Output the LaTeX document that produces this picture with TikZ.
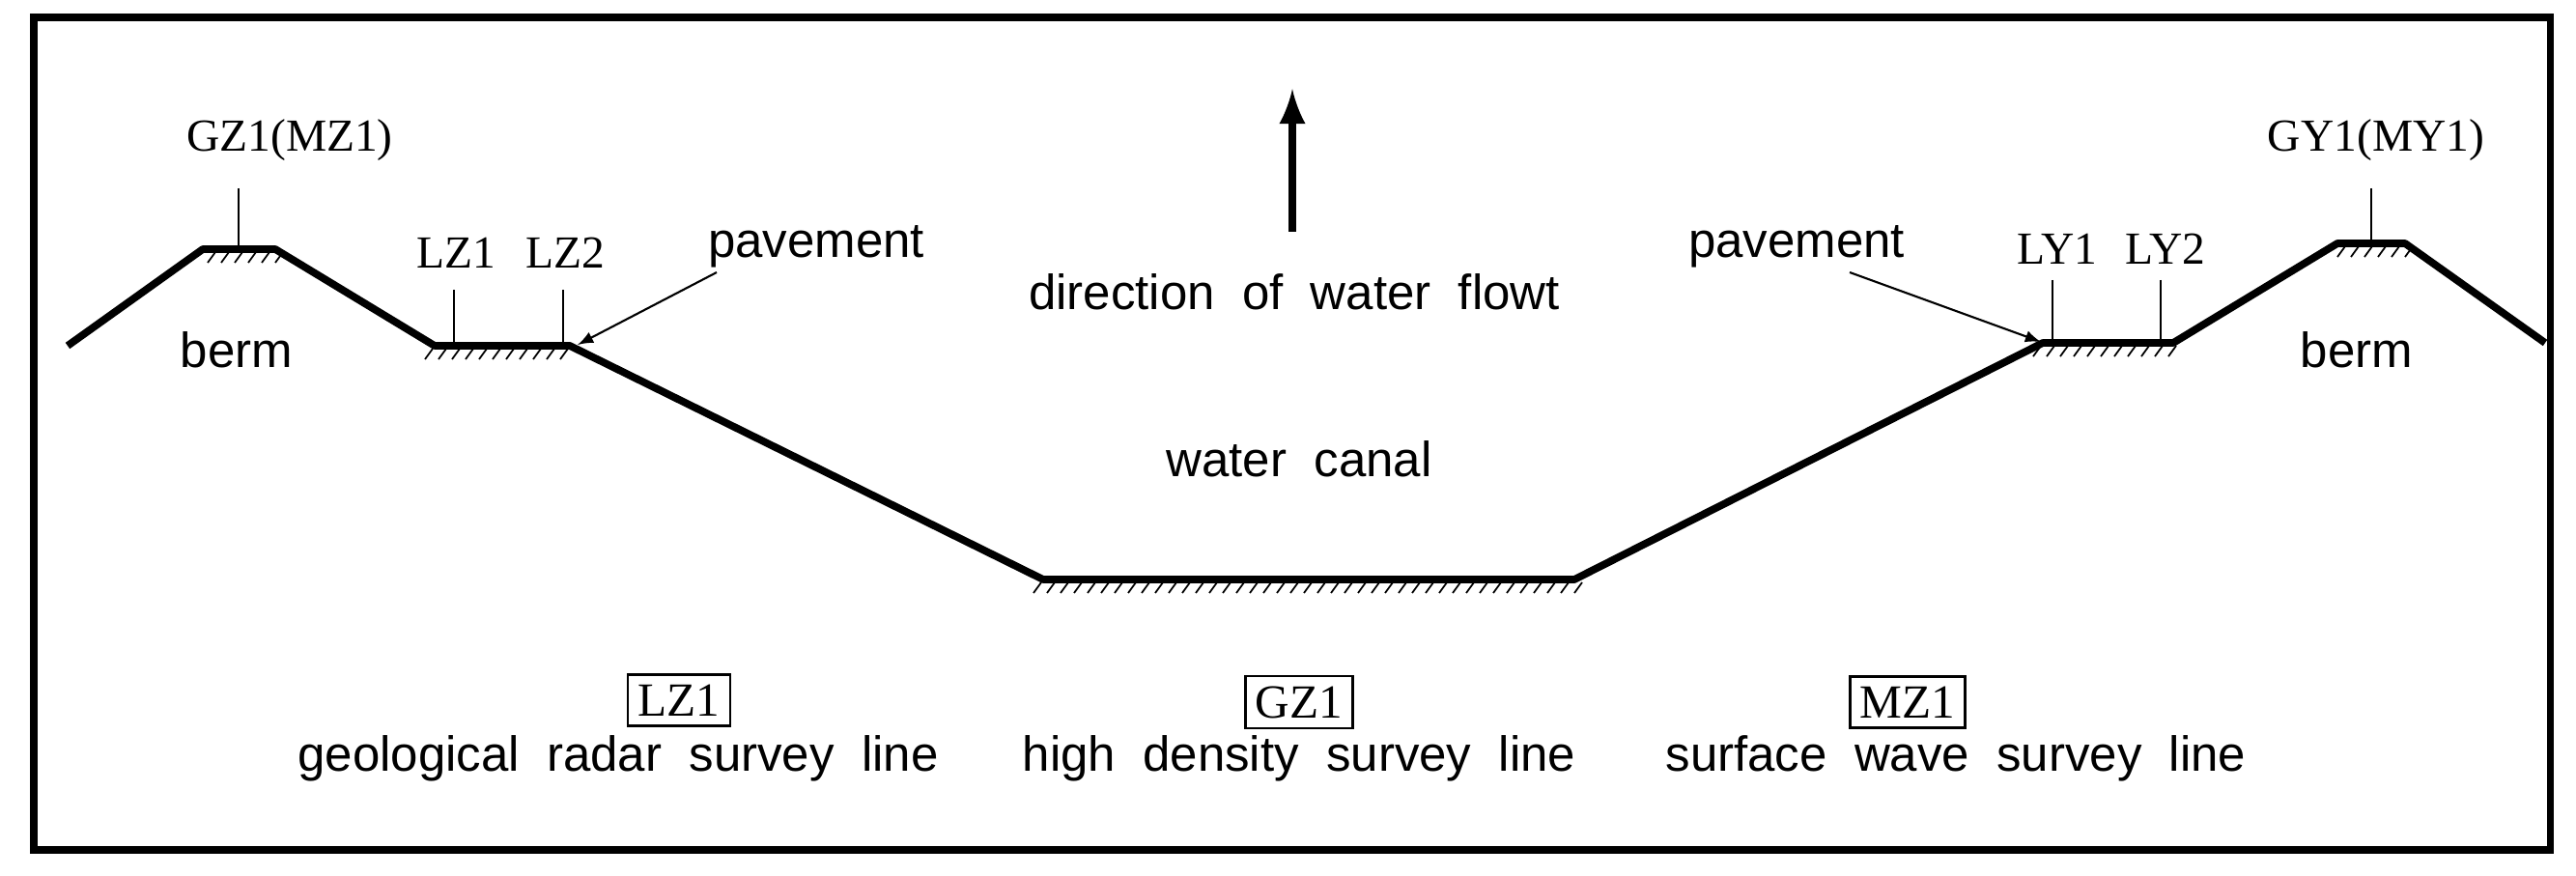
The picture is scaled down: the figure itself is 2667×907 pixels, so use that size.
\documentclass[tikz,border=0pt]{standalone}
\usepackage{fontspec}
\setmainfont{Liberation Sans}
\newfontfamily\codefont{Liberation Serif}
\begin{document}
\begin{tikzpicture}[x=0.01cm,y=-0.01cm,
  prof/.style={line width=2.2pt,line join=round},
  txt/.style={font=\fontsize{14.5}{17}\selectfont},
  code/.style={font=\codefont\fontsize{13.5}{16}\selectfont},
  tick/.style={line width=0.6pt},
  cbox/.style={draw,line width=0.8pt,inner sep=3pt,font=\codefont\fontsize{14}{16}\selectfont}]
\useasboundingbox (0,0) rectangle (2667,907);
\draw[line width=2pt] (35,18) rectangle (2640,880);
\draw[prof] (70,358) -- (210,258) -- (285,258) -- (450,358) -- (590,358) -- (1080,600) -- (1630,600) -- (2115,355) -- (2250,355) -- (2420,252) -- (2490,252) -- (2635,355);
% hatching
\foreach \a/\b/\y in {215/285/258, 440/590/358, 1070/1635/600, 2105/2255/355, 2420/2490/252}{
  \pgfmathsetmacro{\n}{int((\b-\a)/14)}
  \foreach \i in {0,...,\n}{
    \draw[line width=0.5pt] ({\a+\i*14},{\y+14}) -- ({\a+\i*14+8},{\y+3});
  }
}
% ticks and labels
\coordinate (g1a) at (247,195); \coordinate (g1b) at (247,258);
\draw[tick] (g1a) -- (g1b);
\node[code] (gz) at (300,145) {GZ1(MZ1)};
\coordinate (l1a) at (470,300); \coordinate (l1b) at (470,358);
\draw[tick] (l1a) -- (l1b);
\node[code] (lz1) at (472,262) {LZ1};
\coordinate (l2a) at (583,300); \coordinate (l2b) at (583,358);
\draw[tick] (l2a) -- (l2b);
\node[code] (lz2) at (585,262) {LZ2};
\node[txt] (pavL) at (845,255) {pavement};
\coordinate (pl) at (598,357);
\draw[line width=0.6pt,-latex] (742,282) -- (pl);
\node[txt] (pavR) at (1860,255) {pavement};
\coordinate (pr) at (2113,354);
\draw[line width=0.6pt,-latex] (1915,282) -- (pr);
\coordinate (y1a) at (2125,290); \coordinate (y1b) at (2125,355);
\draw[tick] (y1a) -- (y1b);
\node[code] (ly1) at (2130,258) {LY1};
\coordinate (y2a) at (2237,290); \coordinate (y2b) at (2237,355);
\draw[tick] (y2a) -- (y2b);
\node[code] (ly2) at (2242,258) {LY2};
\coordinate (gya) at (2455,195); \coordinate (gyb) at (2455,252);
\draw[tick] (gya) -- (gyb);
\node[code] (gy) at (2460,145) {GY1(MY1)};
\node[txt] (bermL) at (245,362) {berm};
\node[txt] (bermR) at (2440,362) {berm};
\coordinate (fa) at (1338,240); \coordinate (fb) at (1338,92);
\draw[line width=2.5pt,-latex] (fa) -- (fb);
\node[txt] (dir) at (1340,302) {direction\ \ of\ \ water\ \ flowt};
\node[txt] (canal) at (1345,475) {water\ \ canal};
\node[cbox] (b1) at (703,725) {LZ1};
\node[cbox] (b2) at (1345,727) {GZ1};
\node[cbox] (b3) at (1975,727) {MZ1};
\node[txt] (t1) at (640,785) {geological\ \ radar\ \ survey\ \ line};
\node[txt] (t2) at (1345,785) {high\ \ density\ \ survey\ \ line};
\node[txt] (t3) at (2025,785) {surface\ \ wave\ \ survey\ \ line};
\end{tikzpicture}
\end{document}
